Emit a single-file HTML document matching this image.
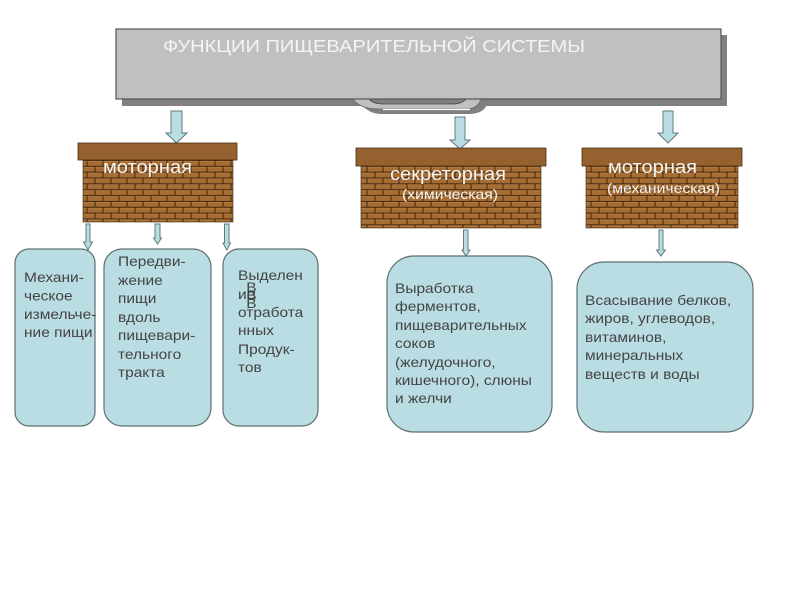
<!DOCTYPE html>
<html lang="ru">
<head>
<meta charset="utf-8">
<title>Функции пищеварительной системы</title>
<style>
html,body{margin:0;padding:0;background:#fff;width:800px;height:600px;overflow:hidden}
svg{display:block}
text{font-family:"Liberation Sans",sans-serif}
.t{font-size:14px;fill:#444}
.w{fill:#f4f4f4}
.box{fill:#b9dde3;stroke:#5f6f70;stroke-width:1.2}
.arr{fill:#b9dde3;stroke:#5f7a80;stroke-width:1}
.cap{fill:#95622f;stroke:#4a2f14;stroke-width:.8}
.wall{stroke:#3b2510;stroke-width:.6}
</style>
</head>
<body>
<svg width="800" height="600" viewBox="0 0 800 600" xmlns="http://www.w3.org/2000/svg">
<defs>
<pattern id="br" x="0" y="0" width="16" height="11.700" patternUnits="userSpaceOnUse" patternTransform="translate(83 160)">
<rect width="16" height="11.700" fill="#a56c33"/>
<path d="M0 1.500H16M0 7.350H16" stroke="#b57c40" stroke-width="1" fill="none"/>
<path d="M0 .4H16M0 6.250H16M4 .4V6.250M12 6.250V12.100" stroke="#36200b" stroke-width=".9" fill="none"/>
</pattern>
</defs>

<!-- header -->
<path d="M362 100 H487 V104 Q484 114 468 114 H382 Q368 114 362 104Z" fill="#808080"/>
<rect x="122" y="35" width="605" height="71" fill="#808080"/>
<path d="M353 99 Q360 109 378 109 H466 Q478 109 481 99Z" fill="#c0c0c0" stroke="#666" stroke-width=".8"/>
<path d="M383 109.500H470" stroke="#fff" stroke-width="1.200"/>
<path d="M369 99 Q373 104 384 104 H452 Q462 104 466 99Z" fill="#808080" stroke="#444" stroke-width=".8"/>
<rect x="116" y="29" width="605" height="70" fill="#c0c0c0" stroke="#555" stroke-width="1.2"/>
<text x="163" y="52" font-size="17.500" fill="#f4f4f4" textLength="422" lengthAdjust="spacingAndGlyphs">ФУНКЦИИ ПИЩЕВАРИТЕЛЬНОЙ СИСТЕМЫ</text>

<!-- big arrows -->
<path class="arr" d="M171 111H182V133H187L176.500 143L166 133H171Z"/>
<path class="arr" d="M455 117H465V140H470L460 149L450 140H455Z"/>
<path class="arr" d="M663 111H673V133H678L668 143L658 133H663Z"/>

<!-- brick blocks -->
<rect class="wall" x="83" y="160" width="150" height="62" fill="url(#br)"/>
<rect class="cap" x="78" y="143" width="159" height="17"/>
<rect class="wall" x="361" y="166" width="180" height="62" fill="url(#br)"/>
<rect class="cap" x="356" y="148" width="190" height="18"/>
<rect class="wall" x="586" y="166" width="152" height="62" fill="url(#br)"/>
<rect class="cap" x="582" y="148" width="160" height="18"/>

<text class="w" x="103" y="173" font-size="18" textLength="89" lengthAdjust="spacingAndGlyphs">моторная</text>
<text class="w" x="390" y="180" font-size="18" textLength="116" lengthAdjust="spacingAndGlyphs">секреторная</text>
<text class="w" x="402" y="199" font-size="14" textLength="96" lengthAdjust="spacingAndGlyphs">(химическая)</text>
<text class="w" x="608" y="173" font-size="18" textLength="89" lengthAdjust="spacingAndGlyphs">моторная</text>
<text class="w" x="607" y="193" font-size="14" textLength="113" lengthAdjust="spacingAndGlyphs">(механическая)</text>

<!-- small arrows -->
<path class="arr" d="M86 224H90V242H92.500L88 250L83.500 242H86Z"/>
<path class="arr" d="M155 224H160V238H161.500L157.500 244L153.500 238H155Z"/>
<path class="arr" d="M224.500 224H229V243H230.500L226.800 250L223 243H224.500Z"/>
<path class="arr" d="M463.500 230H468V250H470L466 256L462 250H463.500Z"/>
<path class="arr" d="M659 230H663V250H665.500L661 256L656.500 250H659Z"/>

<!-- rounded boxes -->
<rect class="box" x="15" y="249" width="80" height="177" rx="14"/>
<rect class="box" x="104" y="249" width="107" height="177" rx="18"/>
<rect class="box" x="223" y="249" width="95" height="177" rx="16"/>
<rect class="box" x="387" y="256" width="165" height="176" rx="27"/>
<rect class="box" x="577" y="262" width="176" height="170" rx="27"/>

<g class="t">
<g transform="translate(24 0) scale(1.107 1)">
<text x="0" y="282">Механи-</text>
<text x="0" y="300.500">ческое</text>
<text x="0" y="319">измельче-</text>
<text x="0" y="337">ние пищи</text>
</g>
<g transform="translate(118 0) scale(1.107 1)">
<text x="0" y="266">Передви-</text>
<text x="0" y="285">жение</text>
<text x="0" y="303">пищи</text>
<text x="0" y="322">вдоль</text>
<text x="0" y="340">пищевари-</text>
<text x="0" y="359">тельного</text>
<text x="0" y="377">тракта</text>
</g>
<g transform="translate(238 0) scale(1.107 1)">
<text x="0" y="280">Выделен</text>
<text x="0" y="299">ие</text>
<text x="7.500" y="292">В</text>
<text x="7.500" y="300">В</text>
<text x="7.500" y="308">В</text>
<text x="0" y="317">отработа</text>
<text x="0" y="335">нных</text>
<text x="0" y="354">Продук-</text>
<text x="0" y="372">тов</text>
</g>
<g transform="translate(395 0) scale(1.107 1)">
<text x="0" y="293">Выработка</text>
<text x="0" y="311">ферментов,</text>
<text x="0" y="330">пищеварительных</text>
<text x="0" y="348">соков</text>
<text x="0" y="367">(желудочного,</text>
<text x="0" y="385">кишечного), слюны</text>
<text x="0" y="403">и желчи</text>
</g>
<g transform="translate(585 0) scale(1.107 1)">
<text x="0" y="305">Всасывание белков,</text>
<text x="0" y="323">жиров, углеводов,</text>
<text x="0" y="342">витаминов,</text>
<text x="0" y="360">минеральных</text>
<text x="0" y="379">веществ и воды</text>
</g>
</g>
</svg>
</body>
</html>
